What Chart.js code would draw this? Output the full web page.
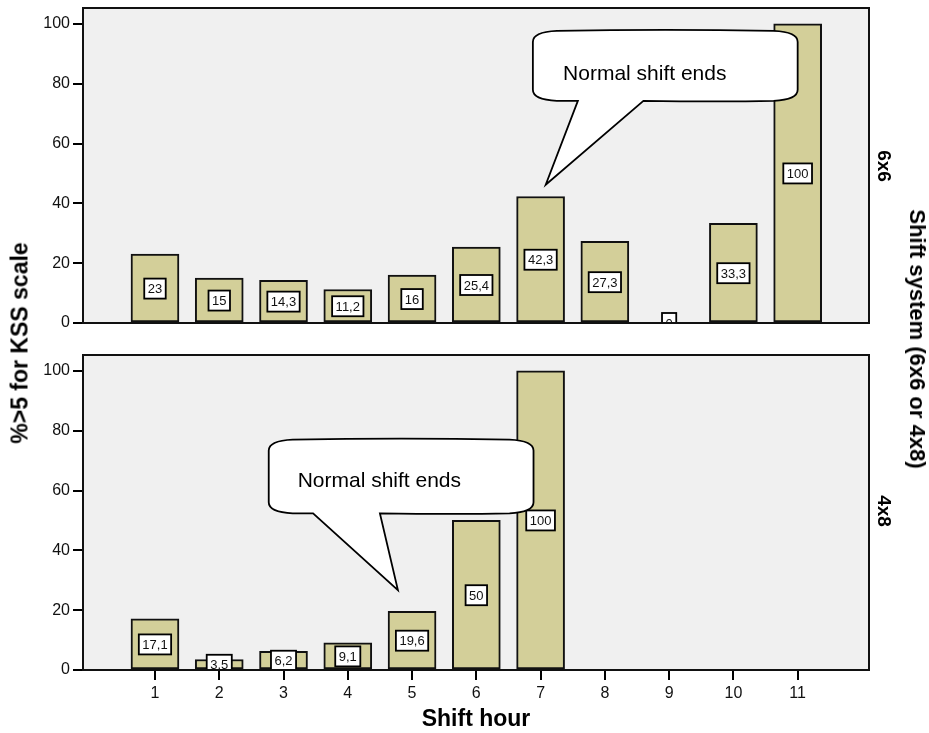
<!DOCTYPE html>
<html>
<head>
<meta charset="utf-8">
<script src="https://cdn.jsdelivr.net/npm/chart.js"></script>
<style>
  body { margin: 0; background: #fff; width: 929px; height: 733px; position: relative; overflow: hidden; font-family: "Liberation Sans", Arial, sans-serif; }
  canvas { position: absolute; left: 0; }
  #topChart { top: -8px; }
  #bottomChart { top: 340px; }
  .lbl { position: absolute; white-space: nowrap; font-weight: bold; color: #000; transform: translate(-50%, -50%); }
  .rotL { transform: translate(-50%, -50%) rotate(-90deg); }
  .rotR { transform: translate(-50%, -50%) rotate(90deg); }
</style>
</head>
<body>
<canvas id="topChart" width="929" height="350"></canvas>
<canvas id="bottomChart" width="929" height="393"></canvas>

<div class="lbl rotL" style="left:20px; top:343px; font-size:23px;">%&gt;5 for KSS scale</div>
<div class="lbl" style="left:476px; top:718px; font-size:23px;">Shift hour</div>
<div class="lbl rotR" style="left:917px; top:339px; font-size:22px;">Shift system (6x6 or 4x8)</div>
<div class="lbl rotR" id="panelTop" style="left:884px; top:166px; font-size:19px;"></div>
<div class="lbl rotR" id="panelBottom" style="left:884px; top:511px; font-size:19px;"></div>

<script>
  // Data
  const hours = [1, 2, 3, 4, 5, 6, 7, 8, 9, 10, 11];
  const hours4x8 = [1, 2, 3, 4, 5, 6, 7];
  const pct6x6 = [23, 15, 14.3, 11.2, 16, 25.4, 42.3, 27.3, 0, 33.3, 100];
  const pct4x8 = [17.1, 3.5, 6.2, 9.1, 19.6, 50, 100];
  const yTicks = [0, 20, 40, 60, 80, 100];
  const panelNames = ['6x6', '4x8'];
  const calloutText = 'Normal shift ends';

  document.getElementById('panelTop').textContent = panelNames[0];
  document.getElementById('panelBottom').textContent = panelNames[1];

  const FONT = '"Liberation Sans", Arial, sans-serif';
  const barColor = 'rgb(211,207,153)';

  // Background, value boxes, callout bubble and frame
  const panelDecor = {
    id: 'panelDecor',
    beforeDraw(chart) {
      const a = chart.chartArea, ctx = chart.ctx;
      ctx.save();
      ctx.fillStyle = '#f0f0f0';
      ctx.fillRect(a.left, a.top, a.right - a.left, a.bottom - a.top);
      ctx.restore();
    },
    afterDatasetsDraw(chart, args, opts) {
      const a = chart.chartArea, ctx = chart.ctx;
      const xs = chart.scales.x, ys = chart.scales.y;

      // value labels in boxes at half bar height
      ctx.save();
      ctx.beginPath();
      ctx.rect(a.left, a.top, a.right - a.left, a.bottom - a.top);
      ctx.clip();
      ctx.font = '13px ' + FONT;
      ctx.textAlign = 'center';
      ctx.textBaseline = 'middle';
      chart.data.datasets[0].data.forEach(d => {
        const txt = String(d.y).replace('.', ',');
        const cx = xs.getPixelForValue(d.x);
        const cy = ys.getPixelForValue(d.y / 2);
        const w = ctx.measureText(txt).width + 7;
        const h = 20;
        ctx.fillStyle = '#fff';
        ctx.fillRect(cx - w / 2, cy - h / 2, w, h);
        ctx.strokeStyle = '#000';
        ctx.lineWidth = 1.8;
        ctx.strokeRect(cx - w / 2, cy - h / 2, w, h);
        ctx.fillStyle = '#111';
        ctx.fillText(txt, cx, cy + 1);
      });
      ctx.restore();

      // callout bubble
      const c = opts.callout;
      if (c) {
        const x0 = xs.getPixelForValue(c.x0), x1 = xs.getPixelForValue(c.x1);
        const y0 = ys.getPixelForValue(c.y0), y1 = ys.getPixelForValue(c.y1);
        const b1 = xs.getPixelForValue(c.base1), b2 = xs.getPixelForValue(c.base2);
        const tx = xs.getPixelForValue(c.tipX), ty = ys.getPixelForValue(c.tipY);
        const rx = 24, ry = 10;
        ctx.save();
        ctx.beginPath();
        ctx.moveTo(x0, y0 + ry);
        ctx.quadraticCurveTo(x0, y0, x0 + rx, y0 - 1);
        ctx.quadraticCurveTo((x0 + x1) / 2, y0 - 3, x1 - rx, y0 - 1);
        ctx.quadraticCurveTo(x1, y0, x1, y0 + ry);
        ctx.lineTo(x1, y1 - ry);
        ctx.quadraticCurveTo(x1, y1, x1 - rx, y1 + 1);
        ctx.quadraticCurveTo((b2 + x1) / 2, y1 + 2, b2, y1 + 1);
        ctx.lineTo(tx, ty);
        ctx.lineTo(b1, y1 + 1);
        ctx.quadraticCurveTo((x0 + b1) / 2, y1 + 1, x0 + rx, y1 + 1);
        ctx.quadraticCurveTo(x0, y1, x0, y1 - ry);
        ctx.closePath();
        ctx.fillStyle = '#fff';
        ctx.fill();
        ctx.strokeStyle = '#000';
        ctx.lineWidth = 1.8;
        ctx.stroke();
        ctx.fillStyle = '#000';
        ctx.font = '21px ' + FONT;
        ctx.textAlign = 'left';
        ctx.textBaseline = 'middle';
        ctx.fillText(calloutText, xs.getPixelForValue(c.textX), ys.getPixelForValue(c.textY));
        ctx.restore();
      }

      // frame
      ctx.save();
      ctx.strokeStyle = '#111';
      ctx.lineWidth = 2;
      ctx.strokeRect(a.left, a.top, a.right - a.left, a.bottom - a.top);
      ctx.restore();
    }
  };

  function buildChart(id, xs, values, callout, showX, padding) {
    return new Chart(document.getElementById(id), {
      type: 'bar',
      data: {
        datasets: [{
          data: xs.map((h, i) => ({ x: h, y: values[i] })),
          backgroundColor: barColor,
          borderColor: '#111',
          borderWidth: 2,
          borderSkipped: false,
          barThickness: 48
        }]
      },
      options: {
        responsive: false,
        animation: false,
        events: [],
        layout: { padding: padding },
        plugins: {
          legend: { display: false },
          tooltip: { enabled: false },
          panelDecor: { callout: callout }
        },
        scales: {
          x: {
            type: 'linear',
            display: showX,
            min: -0.12,
            max: 12.11,
            offset: false,
            afterBuildTicks: s => { s.ticks = hours.map(v => ({ value: v })); },
            afterFit: s => { s.height = showX ? 40 : 0; },
            grid: { offset: false, drawOnChartArea: false, drawTicks: true, tickLength: 10, color: '#000', lineWidth: 2 },
            border: { display: false },
            ticks: { padding: 4, color: '#111', font: { size: 16, family: FONT }, maxRotation: 0, autoSkip: false }
          },
          y: {
            min: 0,
            max: 105.3,
            afterBuildTicks: s => { s.ticks = yTicks.map(v => ({ value: v })); },
            afterFit: s => { s.width = 83; },
            grid: { drawOnChartArea: false, drawTicks: true, tickLength: 10, color: '#000', lineWidth: 2 },
            border: { display: false },
            ticks: { padding: 3, color: '#111', font: { size: 16, family: FONT } }
          }
        }
      },
      plugins: [panelDecor]
    });
  }

  buildChart('topChart', hours, pct6x6, {
    x0: 6.88, x1: 11.0, y0: 97.3, y1: 74.6,
    base1: 7.58, base2: 8.6, tipX: 7.08, tipY: 46.2,
    textX: 7.35, textY: 83.3
  }, false, { top: 16, right: 60, bottom: 19, left: 0 });

  buildChart('bottomChart', hours4x8, pct4x8, {
    x0: 2.77, x1: 6.89, y0: 76.7, y1: 52.7,
    base1: 3.46, base2: 4.5, tipX: 4.78, tipY: 26.7,
    textX: 3.22, textY: 63
  }, true, { top: 15, right: 60, bottom: 23, left: 0 });
</script>
</body>
</html>
